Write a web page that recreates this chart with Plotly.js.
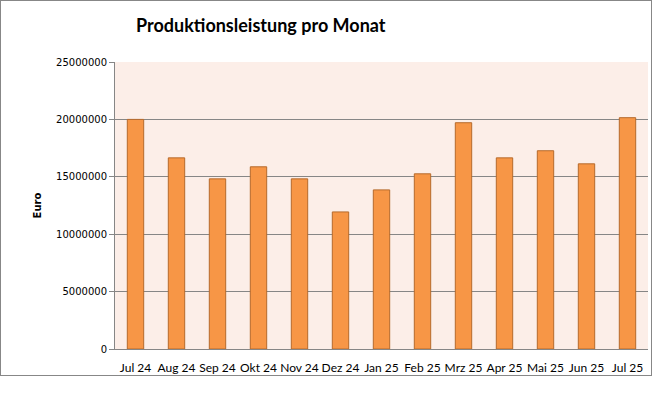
<!DOCTYPE html>
<html>
<head>
<meta charset="utf-8">
<script src="https://cdn.plot.ly/plotly-3.0.1.min.js"></script>
<style>
  html, body { margin: 0; padding: 0; background: #ffffff; }
  #frame { position: absolute; left: 0; top: 0; width: 650px; height: 374px; border: 1px solid #878787; }
  #chart { position: absolute; left: 0; top: 0; width: 652px; height: 399px; }
</style>
</head>
<body>
<div id="frame"></div>
<div id="chart"></div>
<script>
const months = ["Jul 24", "Aug 24", "Sep 24", "Okt 24", "Nov 24", "Dez 24", "Jan 25",
                "Feb 25", "Mrz 25", "Apr 25", "Mai 25", "Jun 25", "Jul 25"];
const euro = [20000000, 16650000, 14820000, 15870000, 14820000, 11940000, 13860000,
              15260000, 19710000, 16650000, 17270000, 16130000, 20150000];
const yTicks = [0, 5000000, 10000000, 15000000, 20000000, 25000000];

const trace = {
  type: "bar",
  x: months,
  y: euro,
  marker: { color: "#F79646", line: { color: "#B66A2C", width: 1 } },
  hoverinfo: "x+y"
};

const layout = {
  width: 652, height: 399,
  margin: { l: 115, r: 4, t: 62, b: 50 },
  paper_bgcolor: "rgba(0,0,0,0)",
  plot_bgcolor: "#FCEEE8",
  bargap: 0.6,
  showlegend: false,
  title: {
    text: "<b>Produktionsleistung pro Monat</b>",
    font: { family: "Lato, 'Open Sans', sans-serif", size: 18, color: "#000000" },
    x: 0.4, xanchor: "center", xref: "container",
    y: 0.935, yanchor: "middle"
  },
  xaxis: {
    type: "category",
    showgrid: false,
    showline: true, linecolor: "#868686", linewidth: 1,
    ticks: "", ticklen: 0,
    ticklabelstandoff: 8,
    tickfont: { family: "Lato, sans-serif", size: 12, color: "#000000" },
    fixedrange: true
  },
  yaxis: {
    range: [0, 25000000],
    tickvals: yTicks,
    tickformat: "d",
    showgrid: true, gridcolor: "#868686", gridwidth: 1,
    showline: true, linecolor: "#868686", linewidth: 1,
    ticks: "outside", ticklen: 5, tickcolor: "#868686",
    zeroline: false,
    tickfont: { family: "'DejaVu Sans', Verdana, sans-serif", size: 10, color: "#000000" },
    title: {
      text: "<b>Euro</b>",
      font: { family: "'DejaVu Sans', Verdana, sans-serif", size: 10, color: "#000000" },
      standoff: 12
    },
    fixedrange: true
  }
};

Plotly.newPlot("chart", [trace], layout, { displayModeBar: false, staticPlot: true });
</script>
</body>
</html>
